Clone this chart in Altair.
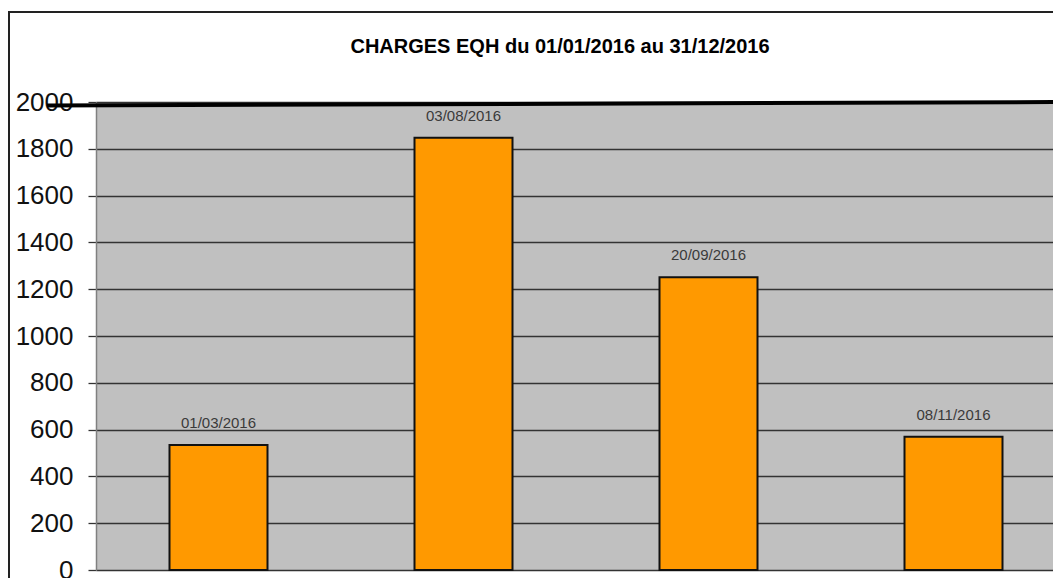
import altair as alt
import pandas as pd

dates = ["01/03/2016", "03/08/2016", "20/09/2016", "08/11/2016"]
values = [534, 1847, 1251, 569]
y_ticks = [0, 200, 400, 600, 800, 1000, 1200, 1400, 1600, 1800, 2000]
title_text = "CHARGES EQH du 01/01/2016 au 31/12/2016"

FONT = "Liberation Sans, Arial"

df = pd.DataFrame({"date": dates, "value": values})

x_enc = alt.X("date:N", sort=dates, title=None,
              scale=alt.Scale(range=[0, 980], paddingInner=0.6, paddingOuter=0.3),
              axis=alt.Axis(labels=False, ticks=False, domain=False, grid=False))
y_enc = alt.Y("value:Q", title=None,
              scale=alt.Scale(domain=[0, 2000], nice=False),
              axis=alt.Axis(values=y_ticks, format="d", grid=True, gridColor="#333333", gridWidth=1.3,
                            tickColor="#333333", tickSize=8, tickWidth=1.3,
                            domainColor="#808080", domainWidth=1.5,
                            labelFont=FONT, labelFontSize=26, labelColor="#111111",
                            labelPadding=15))

bars = alt.Chart(df).mark_bar(color="#FF9900", stroke="#111111", strokeWidth=2).encode(
    x=x_enc, y=y_enc)

labels = alt.Chart(df).mark_text(font=FONT, fontSize=15, color="#3a3a3a",
                                 baseline="alphabetic", dy=-17).encode(
    x=alt.X("date:N", sort=dates), y="value:Q", text="date:N")

top_line = alt.Chart(pd.DataFrame({"a": [0]})).mark_rule(
    color="#000000", strokeWidth=4, clip=False).encode(
    x=alt.value(-49), x2=alt.value(963),
    y=alt.datum(1985), y2=alt.datum(2000))

title = alt.Chart(pd.DataFrame({"t": [title_text]})).mark_text(
    font=FONT, fontSize=20, fontWeight="bold", color="#000000",
    align="center", baseline="middle").encode(
    x=alt.value(464), y=alt.value(-55), text="t:N")

border = alt.Chart(pd.DataFrame({"a": [0]})).mark_rect(
    fill="transparent", stroke="#222222", strokeWidth=2, clip=False).encode(
    x=alt.value(-87), x2=alt.value(1000), y=alt.value(-90), y2=alt.value(520))

chart = alt.layer(bars, labels, top_line, title, border).properties(
    width=957, height=468,
    autosize=alt.AutoSizeParams(type="none"),
    padding={"left": 88, "top": 94, "right": 0, "bottom": 8},
).configure(background="white").configure_view(fill="#c0c0c0", stroke=None)

chart.save("out.html", embed_options={"renderer": "svg", "actions": False})
